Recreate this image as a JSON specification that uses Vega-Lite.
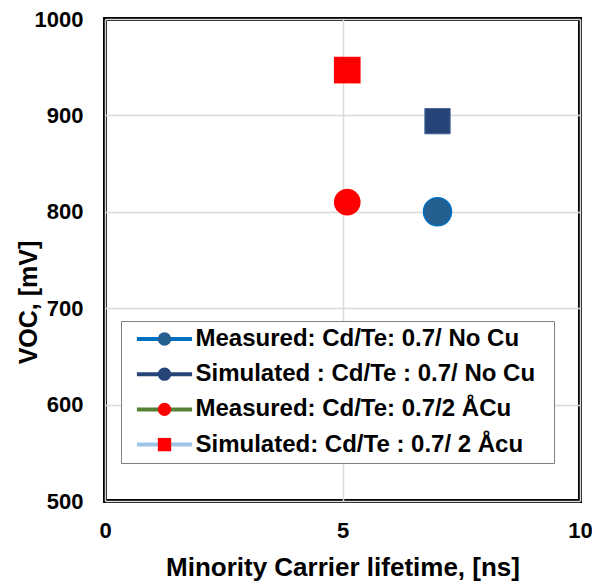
{
  "$schema": "https://vega.github.io/schema/vega-lite/v6.json",
  "width": 475,
  "height": 482,
  "autosize": {"type": "none"},
  "padding": {"left": 105, "top": 19, "right": 12, "bottom": 81},
  "background": "white",
  "config": {
    "font": "Liberation Sans",
    "view": {"stroke": "black", "strokeWidth": 4},
    "axis": {
      "labelFont": "Liberation Sans",
      "labelFontWeight": "bold",
      "labelFontSize": 22,
      "labelColor": "black",
      "titleFont": "Liberation Sans",
      "titleFontWeight": "bold",
      "titleFontSize": 26,
      "titleColor": "black",
      "domain": false,
      "ticks": false,
      "grid": true,
      "gridColor": "#d9d9d9",
      "gridWidth": 1.5
    },
    "legend": {
      "labelFont": "Liberation Sans",
      "labelFontWeight": "bold",
      "labelFontSize": 24,
      "labelColor": "black",
      "labelLimit": 0
    }
  },
  "data": {
    "values": [
      {"series": "Measured: Cd/Te: 0.7/ No Cu", "lifetime": 7.0, "voc": 800},
      {"series": "Simulated : Cd/Te : 0.7/ No Cu", "lifetime": 7.0, "voc": 894},
      {"series": "Measured: Cd/Te: 0.7/2 ÅCu", "lifetime": 5.1, "voc": 810},
      {"series": "Simulated: Cd/Te : 0.7/ 2 Åcu", "lifetime": 5.1, "voc": 947}
    ]
  },
  "encoding": {
    "x": {
      "field": "lifetime",
      "type": "quantitative",
      "scale": {"domain": [0, 10], "nice": false, "zero": false},
      "axis": {
        "values": [0, 5, 10],
        "title": "Minority Carrier lifetime, [ns]",
        "labelPadding": 19,
        "labelFlush": false,
        "labelOverlap": false,
        "titleBaseline": "alphabetic",
        "titleX": 237.5,
        "titleY": 74
      }
    },
    "y": {
      "field": "voc",
      "type": "quantitative",
      "scale": {"domain": [500, 1000], "nice": false, "zero": false},
      "axis": {
        "values": [500, 600, 700, 800, 900, 1000],
        "format": "d",
        "title": "VOC, [mV]",
        "labelPadding": 22,
        "labelOverlap": false,
        "titleFontSize": 25,
        "titleAngle": -90,
        "titleAlign": "center",
        "titleBaseline": "alphabetic",
        "titleX": -69,
        "titleY": 283
      }
    },
    "color": {
      "field": "series",
      "type": "nominal",
      "scale": {
        "domain": ["Measured: Cd/Te: 0.7/ No Cu", "Simulated : Cd/Te : 0.7/ No Cu", "Measured: Cd/Te: 0.7/2 ÅCu", "Simulated: Cd/Te : 0.7/ 2 Åcu"],
        "range": ["#255E91", "#264478", "#FF0000", "#FF0000"]
      },
      "legend": {"title": null, "orient": "none", "legendX": 16, "legendY": 302, "padding": 6, "rowPadding": 11.2, "symbolSize": 178, "symbolStrokeWidth": 0, "symbolOffset": 25.5, "labelOffset": 19, "zindex": 2}
    }
  },
  "layer": [
    {
      "mark": {"type": "point", "filled": true, "size": 40, "opacity": 1},
      "encoding": {
        "shape": {
          "field": "series",
          "type": "nominal",
          "scale": {
            "domain": ["Measured: Cd/Te: 0.7/ No Cu", "Simulated : Cd/Te : 0.7/ No Cu", "Measured: Cd/Te: 0.7/2 ÅCu", "Simulated: Cd/Te : 0.7/ 2 Åcu"],
            "range": ["circle", "circle", "circle", "square"]
          },
          "legend": {"title": null, "orient": "none", "legendX": 16, "legendY": 302, "padding": 6, "rowPadding": 11.2, "symbolSize": 178, "symbolStrokeWidth": 0, "symbolOffset": 25.5, "labelOffset": 19, "zindex": 2}
        }
      }
    },
    {
      "mark": {"type": "line", "strokeWidth": 4},
      "encoding": {
        "color": null,
        "stroke": {
          "field": "series",
          "type": "nominal",
          "sort": ["Measured: Cd/Te: 0.7/ No Cu", "Simulated : Cd/Te : 0.7/ No Cu", "Measured: Cd/Te: 0.7/2 ÅCu", "Simulated: Cd/Te : 0.7/ 2 Åcu"],
          "scale": {"range": ["#0070C0", "#264478", "#548235", "#9DC3E6"]},
          "legend": {
            "title": null,
            "orient": "none",
            "legendX": 16,
            "legendY": 302,
            "padding": 6,
            "rowPadding": 11.2,
            "symbolType": "M-4.6,0H4.6",
            "symbolSize": 144,
            "symbolStrokeWidth": 4,
            "symbolOffset": 25.5,
            "labelOffset": 371.5,
            "labelExpr": "''",
            "strokeColor": "#808080",
            "fillColor": "white",
            "zindex": 1
          }
        }
      }
    },
    {
      "transform": [{"filter": "datum.series == 'Measured: Cd/Te: 0.7/ No Cu'"}],
      "mark": {"type": "point", "filled": true, "shape": "circle", "size": 784, "opacity": 1, "stroke": "#0070C0", "strokeWidth": 1.5}
    },
    {
      "transform": [{"filter": "datum.series == 'Measured: Cd/Te: 0.7/2 ÅCu'"}],
      "mark": {"type": "point", "filled": true, "shape": "circle", "size": 711, "opacity": 1}
    },
    {
      "transform": [{"filter": "datum.series == 'Simulated : Cd/Te : 0.7/ No Cu'"}],
      "mark": {"type": "point", "filled": true, "shape": "square", "size": 640, "opacity": 1, "stroke": "#4a6799", "strokeWidth": 1}
    },
    {
      "transform": [{"filter": "datum.series == 'Simulated: Cd/Te : 0.7/ 2 Åcu'"}],
      "mark": {"type": "point", "filled": true, "shape": "square", "size": 711, "opacity": 1}
    }
  ]
}
